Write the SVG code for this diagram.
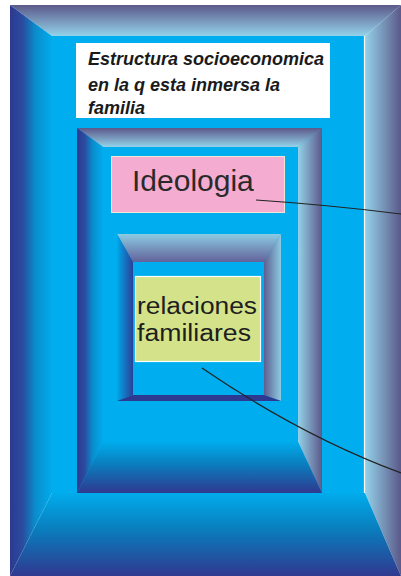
<svg xmlns="http://www.w3.org/2000/svg" width="401" height="576" viewBox="0 0 401 576">
<defs>
<linearGradient id="gTop" x1="0" y1="0" x2="0" y2="1"><stop offset="0" stop-color="#5b598a"/><stop offset="1" stop-color="#94d3ea"/></linearGradient>
<linearGradient id="gLeft" x1="0" y1="0" x2="1" y2="0"><stop offset="0" stop-color="#2d3990"/><stop offset="0.3" stop-color="#2a4c9f"/><stop offset="0.6" stop-color="#0a8ccc"/><stop offset="1" stop-color="#00acec"/></linearGradient>
<linearGradient id="gRight" x1="0" y1="0" x2="1" y2="0"><stop offset="0" stop-color="#94d2e8"/><stop offset="1" stop-color="#5b598a"/></linearGradient>
<linearGradient id="gBot" x1="0" y1="0" x2="0" y2="1"><stop offset="0" stop-color="#00acec"/><stop offset="0.45" stop-color="#0a7cbc"/><stop offset="1" stop-color="#30388f"/></linearGradient>
<linearGradient id="iTop" x1="0" y1="0" x2="0" y2="1"><stop offset="0" stop-color="#8ccbe2"/><stop offset="1" stop-color="#62629a"/></linearGradient>
<linearGradient id="iLeft" x1="0" y1="0" x2="1" y2="0"><stop offset="0" stop-color="#00a8e8"/><stop offset="1" stop-color="#2a3f98"/></linearGradient>
<linearGradient id="iRight" x1="0" y1="0" x2="1" y2="0"><stop offset="0" stop-color="#5e5e90"/><stop offset="1" stop-color="#8ccbe2"/></linearGradient>
<style>
.face{fill:#00aeef}
.top{fill:url(#gTop)}
.left{fill:url(#gLeft)}
.right{fill:url(#gRight)}
.bot{fill:url(#gBot)}
.itop{fill:url(#iTop)}
.ileft{fill:url(#iLeft)}
.iright{fill:url(#iRight)}
.ibot{fill:#2d3990}
.conn{fill:none;stroke:#222;stroke-width:1.2}
.title{font-family:"Liberation Sans",Arial,sans-serif;font-style:italic;font-weight:bold;font-size:18px;fill:#1a1a1a}
.ideo{font-family:"Liberation Sans",Arial,sans-serif;font-size:30px;fill:#2a2a2a}
.rel{font-family:"Liberation Sans",Arial,sans-serif;font-size:23px;fill:#1e1e1e}
</style>
</defs>
<rect width="401" height="576" fill="#fff"/>
<g id="frame-outer">
<rect class="face" x="52" y="36" width="313" height="457"/>
<polygon class="top" points="10,5 401,5 365,36 52,36"/>
<polygon class="left" points="10,5 52,36 52,493 10,576"/>
<polygon class="right" points="401,5 401,576 365,493 365,36"/>
<polygon class="bot" points="10,576 52,493 365,493 401,576"/>
<line x1="364.5" y1="36" x2="364.5" y2="493" stroke="#fff" stroke-width="1.2"/>
</g>
<g id="node-title">
<rect x="76" y="43" width="254" height="75" fill="#fff"/>
<text class="title" x="88" y="65">Estructura socioeconomica</text>
<text class="title" x="88" y="91">en la q esta inmersa la</text>
<text class="title" x="88" y="114">familia</text>
</g>
<g id="frame-middle">
<rect class="face" x="103" y="147" width="195" height="295"/>
<polygon class="top" points="77,128 322,128 298,147 103,147"/>
<polygon class="left" points="77,128 103,147 103,442 77,493"/>
<polygon class="right" points="322,128 322,493 298,442 298,147"/>
<polygon class="bot" points="77,493 103,442 298,442 322,493"/>
</g>
<g id="frame-inner">
<rect class="face" x="133" y="262" width="131" height="133"/>
<polygon class="itop" points="117,234 281,234 264,262 133,262"/>
<polygon class="ileft" points="117,234 133,262 133,395 117,401"/>
<polygon class="iright" points="281,234 281,401 264,395 264,262"/>
<polygon class="ibot" points="117,401 133,395 264,395 281,401"/>
</g>
<g id="node-ideologia">
<rect x="111.5" y="156.5" width="173" height="56" fill="#f4acd0" stroke="#efe6d6" stroke-width="1"/>
<text class="ideo" x="132" y="191">Ideologia</text>
</g>
<g id="node-relaciones">
<rect x="135.5" y="276.5" width="125" height="85" fill="#d4e28a" stroke="#ffffff" stroke-width="1.2"/>
<text class="rel" x="137" y="314" textLength="120" lengthAdjust="spacingAndGlyphs">relaciones</text>
<text class="rel" x="137" y="341" textLength="114" lengthAdjust="spacingAndGlyphs">familiares</text>
</g>
<g id="connectors">
<path class="conn" d="M256,200 Q328.5,204.8 401,214"/>
<path class="conn" d="M202,368 Q300.5,435.5 401,473"/>
</g>
</svg>
